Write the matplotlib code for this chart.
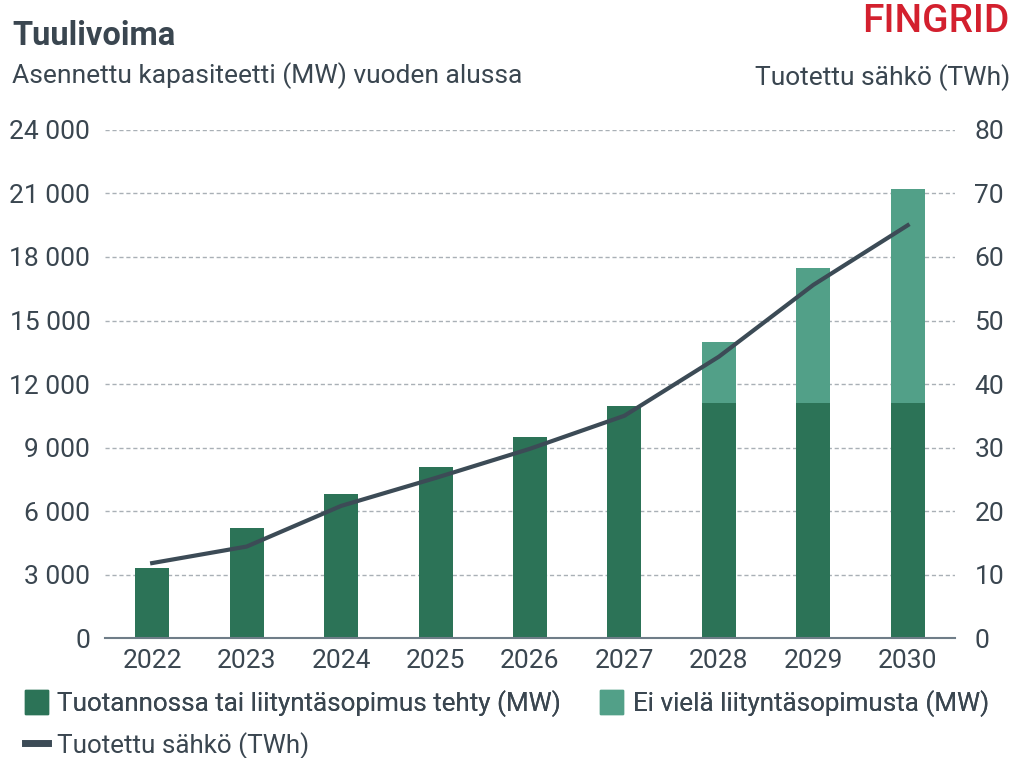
import matplotlib.pyplot as plt
from matplotlib.patches import Patch
from matplotlib.lines import Line2D
import numpy as np

plt.rcParams['font.family'] = ['Roboto', 'DejaVu Sans']

years = ['2022', '2023', '2024', '2025', '2026', '2027', '2028', '2029', '2030']
capacity_contracted = [3300, 5200, 6800, 8100, 9500, 10950, 11100, 11100, 11100]
capacity_no_contract = [0, 0, 0, 0, 0, 0, 2900, 6400, 10100]
production_twh = [11.8, 14.4, 20.8, 25.2, 29.8, 35.0, 44.3, 55.6, 65.0]

left_ticks = [0, 3000, 6000, 9000, 12000, 15000, 18000, 21000, 24000]
left_labels = ['0', '3 000', '6 000', '9 000', '12 000', '15 000', '18 000', '21 000', '24 000']
right_ticks = [0, 10, 20, 30, 40, 50, 60, 70, 80]

dark_green = '#2c7357'
light_green = '#52a088'
line_col = '#3c4b56'
text_col = '#3a4650'

fig = plt.figure(figsize=(10.17, 7.58), dpi=100)
ax = fig.add_axes([0.1032, 0.1583, 0.8358, 0.6702])
x = np.arange(len(years))

ax.bar(x, capacity_contracted, width=0.36, color=dark_green, zorder=3)
ax.bar(x, capacity_no_contract, width=0.36, bottom=capacity_contracted, color=light_green, zorder=3)

ax.set_xlim(-0.5, 8.5)
ax.set_ylim(0, 24000)
ax.set_yticks(left_ticks)
ax.set_yticklabels(left_labels)
ax.set_xticks(x)
ax.set_xticklabels(years)
ax.tick_params(axis='both', length=0, labelsize=19, colors=text_col)
ax.tick_params(axis='y', pad=10.5)
ax.tick_params(axis='x', pad=8)
ax.grid(axis='y', color='#a9b0b6', linestyle=(0, (3, 2)), linewidth=1, zorder=0)
for s in ['top', 'right', 'left']:
    ax.spines[s].set_visible(False)
ax.spines['bottom'].set_color('#6f7d88')
ax.spines['bottom'].set_linewidth(1.5)
ax.spines['bottom'].set_zorder(4)

ax2 = ax.twinx()
ax2.plot(x, production_twh, color=line_col, linewidth=3, zorder=5)
ax2.set_ylim(0, 80)
ax2.set_yticks(right_ticks)
ax2.tick_params(axis='y', length=0, labelsize=19, colors=text_col, pad=14)
for s in ['top', 'right', 'left', 'bottom']:
    ax2.spines[s].set_visible(False)

fig.text(0.012, 0.953, 'Tuulivoima', fontsize=23.5, fontweight='bold', color=text_col, va='center')
fig.text(0.012, 0.900, 'Asennettu kapasiteetti (MW) vuoden alussa', fontsize=19, color=text_col, va='center')
fig.text(0.993, 0.898, 'Tuotettu sähkö (TWh)', fontsize=19, color=text_col, va='center', ha='right')
fig.text(0.993, 0.971, 'FINGRID', fontsize=28, fontweight='medium', color='#d3202e', va='center', ha='right')

leg1 = fig.legend(handles=[Patch(color=dark_green, label='Tuotannossa tai liityntäsopimus tehty (MW)'),
                           Patch(color=light_green, label='Ei vielä liityntäsopimusta (MW)')],
                  loc='center left', bbox_to_anchor=(0.0246, 0.072), ncol=2, frameon=False,
                  fontsize=18.7, handlelength=0.87, handleheight=1.0, handletextpad=0.38,
                  columnspacing=1.5, borderpad=0, borderaxespad=0)
for t in leg1.get_texts():
    t.set_color(text_col)
leg2 = fig.legend(handles=[Line2D([0], [0], color=line_col, linewidth=5, label='Tuotettu sähkö (TWh)')],
                  loc='center left', bbox_to_anchor=(0.0246, 0.017), frameon=False,
                  fontsize=18.7, handlelength=0.87, handletextpad=0.38, borderpad=0, borderaxespad=0)
for t in leg2.get_texts():
    t.set_color(text_col)
fig.add_artist(leg1)

fig.savefig('out.png', dpi=100)
